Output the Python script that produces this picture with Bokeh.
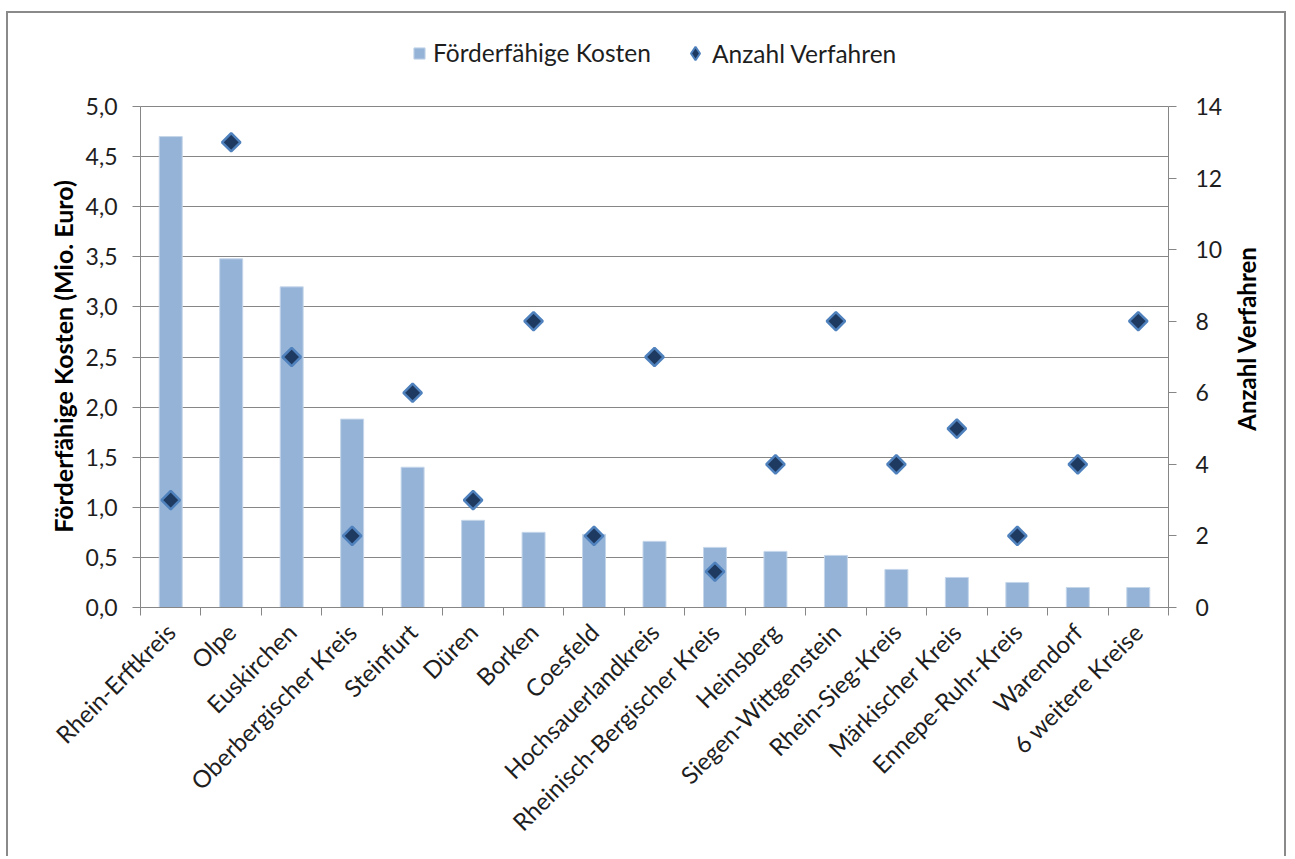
import math
from bokeh.plotting import figure
from bokeh.models import (Range1d, LinearAxis, FixedTicker, CustomJSTickFormatter,
                          Legend, LegendItem, Label, ColumnDataSource)
from bokeh.embed import file_html
from bokeh.resources import INLINE

categories = ["Rhein-Erftkreis", "Olpe", "Euskirchen", "Oberbergischer Kreis", "Steinfurt",
              "Düren", "Borken", "Coesfeld", "Hochsauerlandkreis", "Rheinisch-Bergischer Kreis",
              "Heinsberg", "Siegen-Wittgenstein", "Rhein-Sieg-Kreis", "Märkischer Kreis",
              "Ennepe-Ruhr-Kreis", "Warendorf", "6 weitere Kreise"]
kosten = [4.70, 3.48, 3.20, 1.88, 1.40, 0.87, 0.75, 0.73, 0.66, 0.60, 0.56, 0.52, 0.38, 0.30, 0.25, 0.20, 0.20]
verfahren = [3, 13, 7, 2, 6, 3, 8, 2, 7, 1, 4, 8, 4, 5, 2, 4, 8]
left_ticks = [0.0, 0.5, 1.0, 1.5, 2.0, 2.5, 3.0, 3.5, 4.0, 4.5, 5.0]
right_ticks = [0, 2, 4, 6, 8, 10, 12, 14]

FONT = "Lato"
TXT = "#1e1e1e"
GRID = "#868686"
BAR = "#95B3D7"
DIA_FILL, DIA_LINE = "#1F3A60", "#4F81BD"
n = len(categories)

# layout (canvas pixels, measured from the canvas top-left)
CANVAS_W, CANVAS_H = 1280, 845
PLOT_L, PLOT_R = 132, 1160            # x of left / right value axis
AXIS_TOP, BASE = 93, 594             # y of the top value (5,0 / 14) and of the baseline
PLOT_H = BASE - AXIS_TOP
ppu = (PLOT_R - PLOT_L) / n
x_lo = -PLOT_L / ppu
x_hi = n + (CANVAS_W - PLOT_R) / ppu

lmin, lmax = left_ticks[0], left_ticks[-1]
rmin, rmax = right_ticks[0], right_ticks[-1]
l_ppu = PLOT_H / (lmax - lmin)
r_ppu = PLOT_H / (rmax - rmin)
l_range = Range1d(lmin - (CANVAS_H - BASE) / l_ppu, lmax + AXIS_TOP / l_ppu)
r_range = Range1d(rmin - (CANVAS_H - BASE) / r_ppu, rmax + AXIS_TOP / r_ppu)


def up(y_from_top):
    """screen y measured from the frame bottom (= canvas bottom)"""
    return CANVAS_H - y_from_top


src = ColumnDataSource(dict(x=[i + 0.5 for i in range(n)], kosten=kosten, verfahren=verfahren))

p = figure(width=CANVAS_W, height=CANVAS_H, x_range=Range1d(x_lo, x_hi), y_range=l_range,
           output_backend="svg", toolbar_location=None,
           min_border_left=0, min_border_right=0, min_border_top=0, min_border_bottom=0)
p.styles = {"border-top": "2px solid #8a8a8a", "border-left": "2px solid #8a8a8a",
            "border-right": "2px solid #8a8a8a", "margin-left": "6px", "margin-top": "11px"}
p.outline_line_color = None
p.background_fill_color = "white"
p.border_fill_color = "white"
# "key" range lies far outside the data, so the legend-key renderer draws nothing in the plot
p.extra_y_ranges = {"right": r_range, "key": Range1d(rmax + 1000, rmax + 1001)}

# horizontal grid, limited to the plot area
grid_ok = True
try:
    p.ygrid.cross_bounds = (0, n)
except Exception:
    grid_ok = False
p.ygrid.ticker = FixedTicker(ticks=left_ticks)
p.xgrid.grid_line_color = None
if grid_ok:
    p.ygrid.grid_line_color = GRID
else:
    p.ygrid.grid_line_color = None
    p.segment(x0=[0] * len(left_ticks), x1=[n] * len(left_ticks), y0=left_ticks, y1=left_ticks,
              line_color=GRID, line_width=1)

bars = p.vbar(x="x", top="kosten", width=0.38, source=src, fill_color=BAR,
              line_color="#C5D6EA", line_width=1)
pts = p.scatter(x="x", y="verfahren", source=src, y_range_name="right", marker="square",
                angle=math.pi / 4, size=13, fill_color=DIA_FILL, line_color=DIA_LINE, line_width=2.5)
# legend key (legend keys ignore marker rotation); its points fall outside the visible range
pts_key = p.scatter(x="x", y="verfahren", source=src, y_range_name="key", marker="diamond", size=13,
                    fill_color=DIA_FILL, line_color=DIA_LINE, line_width=2)

# x axis (drawn at y = 0 inside the frame)
xa = p.xaxis[0]
xa.fixed_location = 0
xa.bounds = (0, n)
xa.ticker = FixedTicker(ticks=[i + 0.5 for i in range(n)], minor_ticks=list(range(n + 1)))
xa.formatter = CustomJSTickFormatter(args=dict(names=categories),
                                     code="return names[Math.floor(tick)];")
xa.major_label_orientation = math.pi / 4
xa.major_tick_line_color = None
xa.minor_tick_line_color = GRID
xa.minor_tick_in = 0
xa.minor_tick_out = 8
xa.axis_line_color = GRID
xa.major_label_text_font = FONT
xa.major_label_text_font_size = "24px"
xa.major_label_text_color = TXT
xa.major_label_standoff = 12

# left axis (drawn at x = 0 inside the frame)
ya = p.yaxis[0]
ya.fixed_location = 0
ya.ticker = FixedTicker(ticks=left_ticks)
ya.bounds = (lmin, lmax)
ya.formatter = CustomJSTickFormatter(code="return tick.toFixed(1).replace('.', ',');")
ya.axis_line_color = GRID
ya.major_tick_line_color = GRID
ya.major_tick_in = 0
ya.major_tick_out = 8
ya.minor_tick_line_color = None
ya.major_label_text_font = FONT
ya.major_label_text_font_size = "23px"
ya.major_label_text_color = TXT
ya.major_label_standoff = 15

# right axis (drawn at x = n inside the frame)
ra = LinearAxis(y_range_name="right", ticker=FixedTicker(ticks=right_ticks), bounds=(rmin, rmax),
                fixed_location=n)
ra.axis_line_color = GRID
ra.major_tick_line_color = GRID
ra.major_tick_in = 0
ra.major_tick_out = 8
ra.minor_tick_line_color = None
ra.major_label_text_font = FONT
ra.major_label_text_font_size = "23px"
ra.major_label_text_color = TXT
ra.major_label_standoff = 19
p.add_layout(ra, "right")

ltitle = Label(x=54, y=up(343), x_units="screen", y_units="screen",
               text="Förderfähige Kosten (Mio. Euro)", angle=math.pi / 2,
               text_align="center", text_baseline="middle", text_font=FONT,
               text_font_style="bold", text_font_size="25px", text_color="black")
rtitle = Label(x=1238, y=up(325), x_units="screen", y_units="screen",
               text="Anzahl Verfahren", angle=math.pi / 2,
               text_align="center", text_baseline="middle", text_font=FONT,
               text_font_style="bold", text_font_size="24px", text_color="black")
p.add_layout(ltitle)
p.add_layout(rtitle)

leg_common = dict(orientation="horizontal", padding=0, margin=0,
                  label_text_font=FONT, label_text_font_size="24.5px", label_text_color=TXT,
                  background_fill_alpha=0, border_line_color=None)
legend1 = Legend(items=[LegendItem(label="Förderfähige Kosten", renderers=[bars])],
                 location=(404, up(54)), glyph_width=14, glyph_height=14, label_standoff=7,
                 **leg_common)
legend2 = Legend(items=[LegendItem(label="Anzahl Verfahren", renderers=[pts_key])],
                 location=(670, up(57)), glyph_width=34, glyph_height=34, label_standoff=0,
                 **leg_common)
p.add_layout(legend1)
p.add_layout(legend2)

open("out.html", "w").write(file_html(p, INLINE))
